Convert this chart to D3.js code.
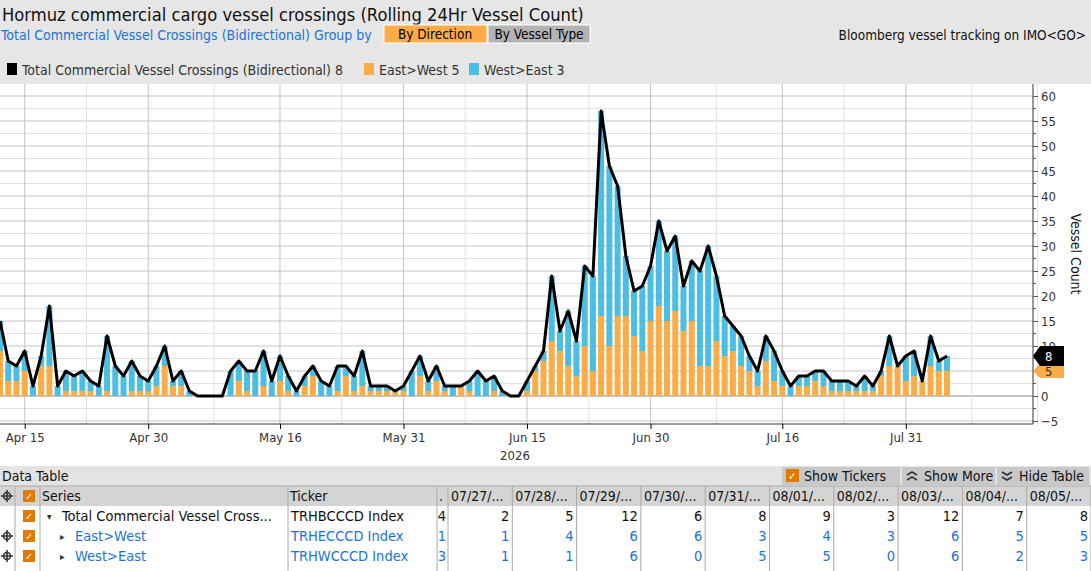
<!DOCTYPE html>
<html><head><meta charset="utf-8">
<script src="https://cdn.jsdelivr.net/npm/d3@7"></script>
<style>
body{margin:0;background:#fff;font-family:"DejaVu Sans Condensed","Liberation Sans",sans-serif;}
svg text{font-family:"DejaVu Sans Condensed","Liberation Sans",sans-serif;}
</style></head><body>
<svg id="c" width="1091" height="571"></svg>
<script>
// daily totals and East>West counts, Apr 12 .. Aug 5 2026
const startDate = new Date(2026, 3, 12);
const totals = [15,7,6,9,2,8,18,2,5,4,5,3,2,12,6,4,7,4,3,6,10,3,5,1,0,0,0,0,5,7,5,5,9,3,8,4,1,4,6,3,2,6,6,4,9,2,2,2,1,2,5,8,3,6,2,2,2,3,5,3,4,1,0,0,3,6,9,24,13,17,11,26,24,57,46,42,28,21,22,26,35,29,32,22,27,25,30,24,16,14,12,8,5,12,9,5,2,4,4,5,5,3,3,3,2,4,2,5,12,6,8,9,3,12,7,8];
const eastWest = [9,3,3,5,0,6,6,0,1,1,1,1,0,1,0,0,1,1,1,2,6,2,2,0,0,0,0,0,0,3,1,0,2,0,3,1,0,2,4,0,0,1,4,1,2,1,1,1,1,1,0,4,1,3,1,0,2,1,0,0,1,0,0,0,1,5,7,11,9,6,4,10,5,16,10,16,16,12,9,15,18,15,17,13,15,6,6,11,8,9,6,5,2,7,3,2,0,2,2,3,2,1,1,1,1,1,1,4,6,6,3,4,3,6,5,5];
const yTicks = [-5,0,5,10,15,20,25,30,35,40,45,50,55,60];
const xTickDates = ["2026-04-15","2026-04-30","2026-05-16","2026-05-31","2026-06-15","2026-06-30","2026-07-16","2026-07-31"];
const xTickLabels = ["Apr 15","Apr 30","May 16","May 31","Jun 15","Jun 30","Jul 16","Jul 31"];
const tableDates = ["07/27/...","07/28/...","07/29/...","07/30/...","07/31/...","08/01/...","08/02/...","08/03/...","08/04/...","08/05/..."];

const data = totals.map((t, i) => ({
  date: d3.timeDay.offset(startDate, i), total: t, east: eastWest[i], west: t - eastWest[i]
}));
const parse = d3.timeParse("%Y-%m-%d");

const svg = d3.select("#c");
const ORANGE = "#fbac47", BLUE = "#4cbde3", BLUE_TXT = "#1a73d9";

// header
svg.append("rect").attr("width", 1091).attr("height", 84).attr("fill", "#e6e6e6");
svg.append("text").attr("x", 2).attr("y", 21).attr("font-size", 18.2).attr("fill", "#111")
  .text("Hormuz commercial cargo vessel crossings (Rolling 24Hr Vessel Count)");
svg.append("text").attr("x", 1).attr("y", 40).attr("font-size", 14).attr("fill", BLUE_TXT)
  .text("Total Commercial Vessel Crossings (Bidirectional)  Group by");
svg.append("rect").attr("x", 384).attr("y", 25).attr("width", 103).attr("height", 18).attr("fill", ORANGE).attr("stroke", "#fff");
svg.append("text").attr("x", 435).attr("y", 39).attr("text-anchor", "middle").attr("font-size", 13.5).text("By Direction");
svg.append("rect").attr("x", 488).attr("y", 25).attr("width", 102).attr("height", 18).attr("fill", "#b3b3b3").attr("stroke", "#fff");
svg.append("text").attr("x", 539).attr("y", 39).attr("text-anchor", "middle").attr("font-size", 13.5).text("By Vessel Type");
svg.append("text").attr("x", 1086).attr("y", 40).attr("text-anchor", "end").attr("font-size", 13.5).attr("fill", "#111")
  .text("Bloomberg vessel tracking on IMO<GO>");

const legend = [["#000", "Total Commercial Vessel Crossings (Bidirectional) 8", 7],
  [ORANGE, "East>West 5", 364], [BLUE, "West>East 3", 469]];
legend.forEach(([c, t, x]) => {
  svg.append("rect").attr("x", x).attr("y", 63).attr("width", 10).attr("height", 12).attr("fill", c);
  svg.append("text").attr("x", x + 15).attr("y", 75).attr("font-size", 14).attr("fill", "#333").text(t);
});

// scales
const x = d3.scaleTime().domain([startDate, d3.timeDay.offset(startDate, totals.length - 1)]).range([0, 947]);
const y = d3.scaleLinear().domain([-5.6, 62.4]).range([424, 84]);
const plot = svg.append("g");
plot.append("defs").append("clipPath").attr("id", "clip").append("rect")
  .attr("x", 0).attr("y", 84).attr("width", 1033).attr("height", 340);

// grid
d3.range(-5, 62.5, 2.5).forEach(v => {
  plot.append("line").attr("x1", 0).attr("x2", 1033).attr("y1", y(v)).attr("y2", y(v))
    .attr("stroke", v === 0 ? "#888" : (v % 5 === 0 ? "#c4c4c4" : "#e0e0e0")).attr("stroke-width", 1);
});
const majors = xTickDates.map(parse);
const minors = majors.slice(0, -1).map((d, i) => new Date((+d + +majors[i + 1]) / 2));
minors.push(d3.timeDay.offset(majors[0], -8), d3.timeDay.offset(majors[7], 8), d3.timeDay.offset(majors[7], 16));
minors.forEach(d => plot.append("line").attr("x1", x(d)).attr("x2", x(d)).attr("y1", 84).attr("y2", 424).attr("stroke", "#e0e0e0"));
majors.forEach(d => plot.append("line").attr("x1", x(d)).attr("x2", x(d)).attr("y1", 84).attr("y2", 424).attr("stroke", "#c4c4c4"));

// bars
const bw = 6;
const g = plot.append("g").attr("clip-path", "url(#clip)");
g.selectAll(".e").data(data).join("rect")
  .attr("x", d => x(d.date) - bw / 2).attr("width", bw)
  .attr("y", d => y(d.east)).attr("height", d => y(0) - y(d.east)).attr("fill", ORANGE);
g.selectAll(".w").data(data).join("rect")
  .attr("x", d => x(d.date) - bw / 2).attr("width", bw)
  .attr("y", d => y(d.east + d.west)).attr("height", d => y(d.east) - y(d.east + d.west)).attr("fill", BLUE);
g.append("path").datum(data)
  .attr("d", d3.line().x(d => x(d.date)).y(d => y(d.total)))
  .attr("fill", "none").attr("stroke", "#000").attr("stroke-width", 3).attr("stroke-linejoin", "round");

// y axis on the right
const yAxis = svg.append("g").attr("transform", "translate(1033,0)")
  .call(d3.axisRight(y).tickValues(yTicks).tickSize(5).tickPadding(3));
yAxis.select(".domain").attr("d", "M0,84V424").attr("stroke", "#333");
yAxis.selectAll("text").attr("font-size", 13).attr("fill", "#333");
yAxis.selectAll(".tick line").attr("stroke", "#555");
d3.range(-2.5, 62.5, 5).forEach(v => yAxis.append("line").attr("x1", 0).attr("x2", 3).attr("y1", y(v)).attr("y2", y(v)).attr("stroke", "#555"));
svg.append("text").attr("transform", "translate(1071,254) rotate(90)").attr("text-anchor", "middle")
  .attr("font-size", 14).attr("fill", "#111").text("Vessel Count");

// value tags
const last = data[data.length - 1];
const tag = (v, fill, txtFill, h) => {
  const cy = y(v);
  svg.append("path").attr("d", `M1033,${cy} L1040,${cy - h / 2} H1064 V${cy + h / 2} H1040 Z`).attr("fill", fill);
  svg.append("text").attr("x", 1045).attr("y", cy + 5).attr("font-size", 13).attr("fill", txtFill).text(v);
};
tag(last.east, ORANGE, "#333", 14);
tag(last.total, "#000", "#fff", 20);

// x axis
const xAxis = svg.append("g").attr("transform", "translate(0,424)")
  .call(d3.axisBottom(x).tickValues(majors).tickFormat((d, i) => xTickLabels[i]).tickSize(5).tickPadding(4));
xAxis.select(".domain").attr("d", "M0,0H1033").attr("stroke", "#333");
xAxis.selectAll("text").attr("font-size", 13).attr("fill", "#333");
svg.append("text").attr("x", 515).attr("y", 460).attr("text-anchor", "middle").attr("font-size", 13).attr("fill", "#333").text("2026");

// data table
svg.append("rect").attr("x", 0).attr("y", 466).attr("width", 1091).attr("height", 20).attr("fill", "#e3e3e3");
svg.append("text").attr("x", 2).attr("y", 481).attr("font-size", 14).attr("fill", "#111").text("Data Table");
[["Show Tickers", 782, 900, true], ["Show More", 902, 995, false], ["Hide Table", 997, 1089, false]].forEach(([t, x0, x1, chk], i) => {
  svg.append("rect").attr("x", x0).attr("y", 467).attr("width", x1 - x0).attr("height", 18).attr("fill", "#c8c8c8");
  if (chk) {
    svg.append("rect").attr("x", x0 + 4).attr("y", 469).attr("width", 13).attr("height", 13).attr("fill", "#e07b00");
    svg.append("text").attr("x", x0 + 6).attr("y", 480).attr("font-size", 11).attr("fill", "#fff").text("✓");
  } else {
    const cx = x0 + 10, d = i === 1 ? -1 : 1;
    svg.append("path").attr("d", `M${cx - 5},${476 - 4 * d}L${cx},${476 - d}L${cx + 5},${476 - 4 * d}M${cx - 5},${476 + d}L${cx},${476 + 4 * d}L${cx + 5},${476 + d}`)
      .attr("fill", "none").attr("stroke", "#333").attr("stroke-width", 1.6);
  }
  svg.append("text").attr("x", x0 + 22).attr("y", 481).attr("font-size", 14).attr("fill", "#111").text(t);
});
svg.append("rect").attr("x", 0).attr("y", 486).attr("width", 1091).attr("height", 20).attr("fill", "#d4d4d4");
const colW = 64.3, col0 = 448;
const colLines = [15, 40, 288, 437, 448].concat(d3.range(1, 11).map(i => col0 + i * colW));
colLines.forEach(cx => svg.append("line").attr("x1", cx).attr("x2", cx).attr("y1", 486).attr("y2", 571).attr("stroke", "#aaa"));
svg.append("line").attr("x1", 0).attr("x2", 1091).attr("y1", 486).attr("y2", 486).attr("stroke", "#aaa");
svg.append("text").attr("x", 42).attr("y", 501).attr("font-size", 14).attr("fill", "#111").text("Series");
svg.append("text").attr("x", 290).attr("y", 501).attr("font-size", 14).attr("fill", "#111").text("Ticker");
svg.append("text").attr("x", 439).attr("y", 501).attr("font-size", 14).attr("fill", "#111").text(".");
tableDates.forEach((t, i) => svg.append("text").attr("x", col0 + i * colW + 3).attr("y", 501).attr("font-size", 14).attr("fill", "#111").text(t));

const crosshair = (cx, cy) => {
  svg.append("circle").attr("cx", cx).attr("cy", cy).attr("r", 3.5).attr("fill", "none").attr("stroke", "#333").attr("stroke-width", 1.6);
  svg.append("path").attr("d", `M${cx - 6},${cy}H${cx + 6}M${cx},${cy - 6}V${cy + 6}`).attr("stroke", "#333").attr("stroke-width", 1.6);
};
const checkbox = (cx, cy) => {
  svg.append("rect").attr("x", cx - 6).attr("y", cy - 6).attr("width", 12).attr("height", 12).attr("fill", "#e07b00");
  svg.append("text").attr("x", cx).attr("y", cy + 4).attr("text-anchor", "middle").attr("font-size", 10).attr("fill", "#fff").text("✓");
};
crosshair(7, 496); checkbox(29, 496);

const n = data.length;
const rows = [
  { name: "Total Commercial Vessel Cross...", ticker: "TRHBCCCD Index", color: "#111", vals: data.slice(n - 11).map(d => d.total), ind: 62, arrow: "▾", cross: false },
  { name: "East>West", ticker: "TRHECCCD Index", color: BLUE_TXT, vals: data.slice(n - 11).map(d => d.east), ind: 75, arrow: "▸", cross: true },
  { name: "West>East", ticker: "TRHWCCCD Index", color: BLUE_TXT, vals: data.slice(n - 11).map(d => d.west), ind: 75, arrow: "▸", cross: true }
];
rows.forEach((r, i) => {
  const cy = 516 + i * 20, ty = cy + 5;
  if (r.cross) crosshair(7, cy);
  checkbox(29, cy);
  svg.append("text").attr("x", r.ind - 15).attr("y", ty - 1).attr("font-size", 10).attr("fill", "#333").text(r.arrow);
  svg.append("text").attr("x", r.ind).attr("y", ty).attr("font-size", 14.5).attr("fill", r.color).text(r.name);
  svg.append("text").attr("x", 291).attr("y", ty).attr("font-size", 14.5).attr("fill", r.color).text(r.ticker);
  svg.append("text").attr("x", 446).attr("y", ty).attr("text-anchor", "end").attr("font-size", 14.5).attr("fill", r.color).text(r.vals[0]);
  r.vals.slice(1).forEach((v, j) => svg.append("text").attr("x", col0 + (j + 1) * colW - 3).attr("y", ty)
    .attr("text-anchor", "end").attr("font-size", 14.5).attr("fill", r.color).text(v));
});
</script></body></html>
